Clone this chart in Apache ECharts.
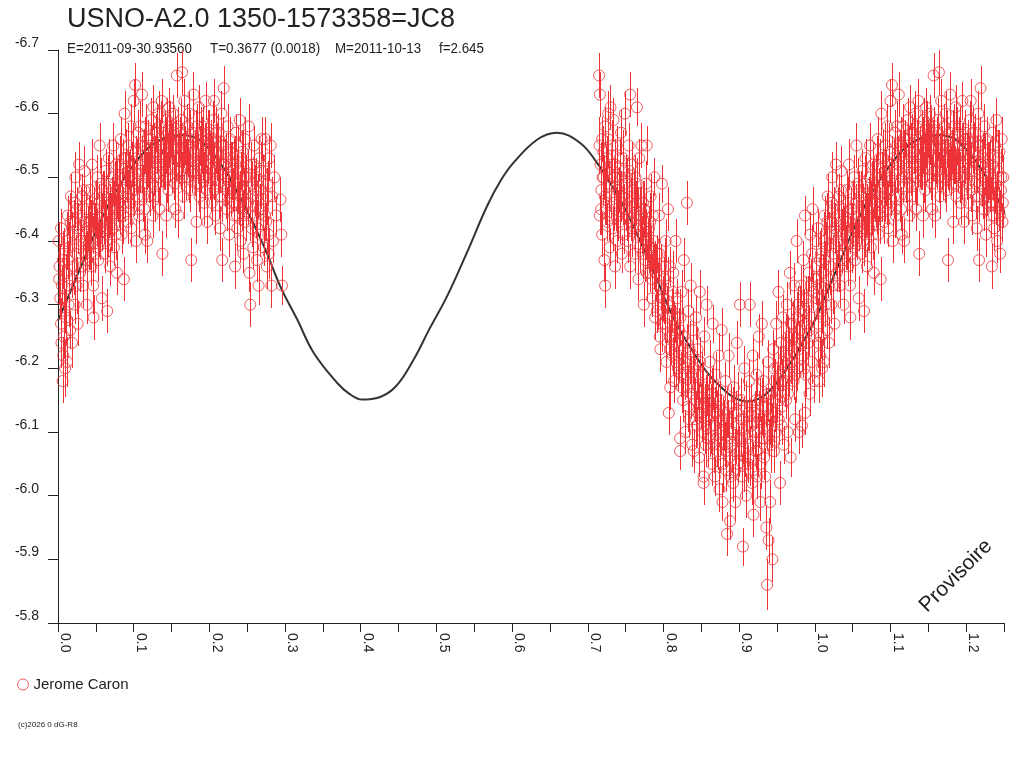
<!DOCTYPE html>
<html><head><meta charset="utf-8">
<script src="https://cdn.jsdelivr.net/npm/echarts@6/dist/echarts.min.js"></script>
<style>html,body{margin:0;padding:0;background:#fff}#c{width:1024px;height:768px}</style>
</head><body><div id="c"></div>
<script>
const titleText = 'USNO-A2.0 1350-1573358=JC8';
const subtitleParts = ['E=2011-09-30.93560', 'T=0.3677 (0.0018)', 'M=2011-10-13', 'f=2.645'];
const seriesName = 'Jerome Caron';
const watermark = 'Provisoire';
const copyright = '(c)2026 0 dG-R8';

// fitted light curve [phase, mag]
const fitCurve = [
[0.000,-6.275],[0.012,-6.308],[0.025,-6.345],[0.038,-6.381],[0.050,-6.415],[0.075,-6.475],[0.100,-6.520],
[0.122,-6.549],[0.144,-6.563],[0.165,-6.566],[0.185,-6.560],[0.205,-6.537],[0.223,-6.507],[0.240,-6.470],
[0.258,-6.428],[0.276,-6.381],[0.294,-6.328],[0.316,-6.277],[0.338,-6.224],[0.369,-6.177],[0.385,-6.160],
[0.402,-6.151],[0.420,-6.153],[0.445,-6.170],[0.470,-6.214],[0.490,-6.260],[0.514,-6.313],[0.540,-6.381],
[0.567,-6.455],[0.585,-6.495],[0.602,-6.523],[0.633,-6.559],[0.659,-6.570],[0.690,-6.554],[0.712,-6.523],
[0.735,-6.480],[0.756,-6.434],[0.787,-6.352],[0.813,-6.280],[0.838,-6.228],[0.860,-6.190],[0.875,-6.172],
[0.892,-6.155],[0.910,-6.148],[0.937,-6.161],[0.967,-6.207],[0.985,-6.243]
];

// observations, first part of the phase [phase, mag, error]
const obsEarly = [
[0.001,-6.40,.03],[0.002,-6.36,.035],[0.003,-6.31,.03],[0.004,-6.27,.04],[0.005,-6.33,.03],[0.006,-6.18,.035],[0.007,-6.22,.03],[0.008,-6.38,.04],[0.009,-6.29,.035],[0.004,-6.42,.03],[0.008,-6.25,.035],
[0.011,-6.35,.03],[0.012,-6.21,.04],[0.013,-6.44,.03],[0.014,-6.30,.035],[0.015,-6.39,.04],[0.016,-6.26,.03],[0.017,-6.47,.035],[0.018,-6.34,.03],[0.019,-6.41,.035],[0.013,-6.37,.03],
[0.021,-6.43,.035],[0.022,-6.30,.03],[0.023,-6.50,.04],[0.024,-6.38,.03],[0.025,-6.45,.035],[0.026,-6.27,.035],[0.027,-6.41,.03],[0.028,-6.52,.035],[0.029,-6.35,.03],
[0.031,-6.40,.03],[0.032,-6.47,.035],[0.033,-6.33,.035],[0.034,-6.43,.03],[0.035,-6.51,.04],[0.036,-6.38,.03],[0.037,-6.45,.035],[0.038,-6.30,.03],[0.039,-6.42,.035],
[0.041,-6.39,.035],[0.042,-6.48,.03],[0.043,-6.43,.035],[0.044,-6.36,.03],[0.045,-6.52,.04],[0.046,-6.41,.03],[0.047,-6.28,.035],[0.048,-6.45,.035],[0.049,-6.38,.03],
[0.051,-6.42,.03],[0.052,-6.50,.035],[0.053,-6.37,.035],[0.054,-6.46,.03],[0.055,-6.55,.035],[0.056,-6.40,.03],[0.057,-6.44,.035],[0.058,-6.31,.035],[0.059,-6.48,.03],
[0.061,-6.43,.035],[0.062,-6.38,.03],[0.063,-6.51,.035],[0.064,-6.46,.03],[0.065,-6.29,.035],[0.066,-6.41,.035],[0.067,-6.53,.03],[0.068,-6.44,.035],[0.069,-6.36,.03],
[0.071,-6.47,.03],[0.072,-6.42,.035],[0.073,-6.55,.035],[0.074,-6.39,.03],[0.075,-6.49,.035],[0.076,-6.44,.03],[0.077,-6.52,.035],[0.078,-6.35,.035],[0.079,-6.46,.03],
[0.081,-6.50,.035],[0.082,-6.44,.03],[0.083,-6.56,.035],[0.084,-6.41,.03],[0.085,-6.48,.035],[0.086,-6.53,.03],[0.087,-6.34,.035],[0.088,-6.60,.035],[0.089,-6.46,.03],
[0.091,-6.49,.03],[0.092,-6.43,.035],[0.093,-6.55,.035],[0.094,-6.51,.03],[0.095,-6.46,.035],[0.096,-6.58,.035],[0.097,-6.42,.03],[0.098,-6.52,.035],[0.099,-6.48,.03],
[0.100,-6.62,.035],[0.101,-6.50,.03],[0.102,-6.645,.035],[0.103,-6.40,.035],[0.104,-6.53,.03],[0.105,-6.47,.035],[0.106,-6.57,.035],[0.107,-6.44,.03],[0.108,-6.51,.035],[0.109,-6.55,.03],
[0.111,-6.63,.035],[0.112,-6.49,.03],[0.113,-6.54,.035],[0.114,-6.45,.035],[0.115,-6.41,.03],[0.116,-6.58,.035],[0.117,-6.51,.03],[0.118,-6.40,.035],[0.119,-6.56,.03],
[0.121,-6.52,.035],[0.122,-6.47,.03],[0.123,-6.59,.035],[0.124,-6.55,.03],[0.125,-6.44,.035],[0.126,-6.61,.035],[0.127,-6.50,.03],[0.128,-6.53,.035],[0.129,-6.57,.03],
[0.131,-6.54,.035],[0.132,-6.49,.03],[0.133,-6.60,.035],[0.134,-6.45,.035],[0.135,-6.56,.03],[0.136,-6.52,.035],[0.137,-6.62,.035],[0.138,-6.38,.035],[0.139,-6.55,.03],
[0.141,-6.57,.035],[0.142,-6.51,.03],[0.143,-6.44,.035],[0.144,-6.59,.035],[0.145,-6.54,.03],[0.146,-6.48,.035],[0.147,-6.61,.03],[0.148,-6.53,.035],[0.149,-6.56,.03],
[0.151,-6.55,.035],[0.152,-6.60,.03],[0.153,-6.50,.035],[0.154,-6.57,.035],[0.155,-6.45,.03],[0.156,-6.53,.035],[0.157,-6.66,.035],[0.158,-6.58,.03],[0.159,-6.44,.035],
[0.161,-6.56,.035],[0.162,-6.51,.03],[0.163,-6.59,.035],[0.164,-6.665,.035],[0.165,-6.54,.03],[0.166,-6.47,.035],[0.167,-6.62,.035],[0.168,-6.55,.03],[0.169,-6.50,.035],
[0.171,-6.58,.035],[0.172,-6.53,.03],[0.173,-6.60,.035],[0.174,-6.48,.035],[0.175,-6.55,.03],[0.176,-6.37,.035],[0.177,-6.51,.035],[0.178,-6.57,.03],[0.179,-6.63,.035],
[0.181,-6.54,.035],[0.182,-6.49,.03],[0.183,-6.43,.035],[0.184,-6.58,.035],[0.185,-6.52,.03],[0.186,-6.61,.035],[0.187,-6.47,.035],[0.188,-6.55,.03],[0.189,-6.51,.035],
[0.191,-6.53,.035],[0.192,-6.58,.03],[0.193,-6.46,.035],[0.194,-6.50,.035],[0.195,-6.62,.03],[0.196,-6.55,.035],[0.197,-6.43,.035],[0.198,-6.52,.03],[0.199,-6.57,.035],
[0.201,-6.50,.035],[0.202,-6.56,.03],[0.203,-6.46,.035],[0.204,-6.53,.035],[0.205,-6.59,.03],[0.206,-6.62,.035],[0.207,-6.48,.035],[0.208,-6.44,.03],[0.209,-6.54,.035],
[0.211,-6.51,.035],[0.212,-6.57,.03],[0.213,-6.47,.035],[0.214,-6.42,.035],[0.215,-6.55,.03],[0.216,-6.60,.035],[0.217,-6.37,.035],[0.218,-6.52,.03],[0.219,-6.64,.035],
[0.221,-6.49,.035],[0.222,-6.54,.03],[0.223,-6.45,.035],[0.224,-6.58,.035],[0.225,-6.50,.03],[0.226,-6.41,.035],[0.227,-6.56,.035],[0.228,-6.47,.03],[0.229,-6.52,.035],
[0.231,-6.48,.035],[0.232,-6.53,.03],[0.233,-6.44,.035],[0.234,-6.36,.035],[0.235,-6.57,.03],[0.236,-6.50,.035],[0.237,-6.42,.035],[0.238,-6.55,.03],[0.239,-6.46,.035],
[0.240,-6.59,.035],[0.241,-6.40,.035],[0.242,-6.51,.03],[0.243,-6.45,.035],[0.244,-6.54,.035],[0.245,-6.38,.03],[0.246,-6.48,.035],[0.247,-6.56,.035],[0.248,-6.43,.03],[0.249,-6.50,.035],
[0.251,-6.46,.035],[0.252,-6.58,.035],[0.253,-6.35,.03],[0.254,-6.30,.035],[0.255,-6.52,.035],[0.256,-6.42,.03],[0.257,-6.49,.035],[0.258,-6.39,.035],[0.259,-6.55,.03],
[0.261,-6.44,.035],[0.262,-6.50,.03],[0.263,-6.37,.035],[0.264,-6.47,.035],[0.265,-6.33,.03],[0.266,-6.53,.035],[0.267,-6.41,.035],[0.268,-6.48,.03],[0.269,-6.56,.035],
[0.271,-6.45,.035],[0.272,-6.39,.03],[0.273,-6.51,.035],[0.274,-6.56,.035],[0.275,-6.43,.03],[0.276,-6.36,.035],[0.277,-6.49,.035],[0.278,-6.41,.03],[0.279,-6.53,.035],
[0.281,-6.55,.035],[0.282,-6.33,.035],[0.283,-6.47,.03],[0.284,-6.40,.035],[0.286,-6.50,.035],[0.288,-6.44,.03],[0.294,-6.465,.035],[0.295,-6.41,.035],[0.296,-6.33,.03]
];

// further observations in the crowded core of the first part
const obsEarlyCore = [
[0.0015,-6.34,.04],[0.0045,-6.24,.04],[0.0065,-6.37,.045],[0.0085,-6.31,.04],[0.0095,-6.20,.045],
[0.0105,-6.28,.04],[0.0125,-6.40,.045],[0.0145,-6.33,.04],[0.0165,-6.43,.045],[0.0185,-6.24,.04],
[0.0205,-6.36,.045],[0.0225,-6.46,.04],[0.0245,-6.33,.045],[0.0265,-6.42,.04],[0.0285,-6.39,.045],
[0.0305,-6.44,.045],[0.0325,-6.36,.04],[0.0345,-6.48,.045],[0.0365,-6.41,.04],[0.0385,-6.37,.045],
[0.0405,-6.43,.04],[0.0425,-6.40,.045],[0.0445,-6.46,.04],[0.0465,-6.33,.045],[0.0485,-6.42,.04],
[0.0505,-6.45,.045],[0.0525,-6.39,.04],[0.0545,-6.42,.045],[0.0565,-6.49,.04],[0.0585,-6.43,.045],
[0.0605,-6.47,.04],[0.0625,-6.42,.045],[0.0645,-6.40,.04],[0.0665,-6.49,.045],[0.0685,-6.45,.04],
[0.0705,-6.43,.045],[0.0725,-6.50,.04],[0.0745,-6.45,.045],[0.0765,-6.41,.04],[0.0785,-6.48,.045],
[0.0805,-6.46,.04],[0.0825,-6.52,.045],[0.0845,-6.47,.04],[0.0865,-6.44,.045],[0.0885,-6.50,.04],
[0.0905,-6.53,.045],[0.0925,-6.47,.04],[0.0945,-6.50,.045],[0.0965,-6.45,.04],[0.0985,-6.54,.045],
[0.1005,-6.48,.04],[0.1025,-6.52,.045],[0.1045,-6.49,.04],[0.1065,-6.45,.045],[0.1085,-6.58,.04],
[0.1105,-6.52,.045],[0.1125,-6.47,.04],[0.1145,-6.55,.045],[0.1165,-6.50,.04],[0.1185,-6.53,.045],
[0.1205,-6.50,.04],[0.1225,-6.56,.045],[0.1245,-6.49,.04],[0.1265,-6.54,.045],[0.1285,-6.47,.04],
[0.1305,-6.57,.045],[0.1325,-6.52,.04],[0.1345,-6.50,.045],[0.1365,-6.58,.04],[0.1385,-6.53,.045],
[0.1405,-6.52,.04],[0.1425,-6.55,.045],[0.1445,-6.50,.04],[0.1465,-6.56,.045],[0.1485,-6.58,.04],
[0.1505,-6.52,.045],[0.1525,-6.56,.04],[0.1545,-6.49,.045],[0.1565,-6.55,.04],[0.1585,-6.51,.045],
[0.1605,-6.53,.04],[0.1625,-6.57,.045],[0.1645,-6.50,.04],[0.1665,-6.56,.045],[0.1685,-6.52,.04],
[0.1705,-6.55,.045],[0.1725,-6.50,.04],[0.1745,-6.56,.045],[0.1765,-6.52,.04],[0.1785,-6.54,.045],
[0.1805,-6.51,.04],[0.1825,-6.56,.045],[0.1845,-6.53,.04],[0.1865,-6.49,.045],[0.1885,-6.57,.04],
[0.1905,-6.55,.045],[0.1925,-6.50,.04],[0.1945,-6.54,.045],[0.1965,-6.48,.04],[0.1985,-6.56,.045],
[0.2005,-6.53,.04],[0.2025,-6.49,.045],[0.2045,-6.56,.04],[0.2065,-6.51,.045],[0.2085,-6.57,.04],
[0.2105,-6.54,.045],[0.2125,-6.49,.04],[0.2145,-6.52,.045],[0.2165,-6.47,.04],[0.2185,-6.55,.045],
[0.2205,-6.52,.04],[0.2225,-6.48,.045],[0.2245,-6.53,.04],[0.2265,-6.46,.045],[0.2285,-6.50,.04],
[0.2305,-6.51,.045],[0.2325,-6.46,.04],[0.2345,-6.52,.045],[0.2365,-6.44,.04],[0.2385,-6.49,.045],
[0.2405,-6.47,.04],[0.2425,-6.53,.045],[0.2445,-6.44,.04],[0.2465,-6.50,.045],[0.2485,-6.46,.04],
[0.2505,-6.50,.045],[0.2535,-6.44,.04],[0.2565,-6.47,.045],[0.2585,-6.52,.04],
[0.2605,-6.48,.04],[0.2635,-6.42,.045],[0.2665,-6.45,.04],[0.2685,-6.51,.045],
[0.2705,-6.49,.045],[0.2735,-6.44,.04],[0.2765,-6.47,.045],[0.2785,-6.38,.04]
];

// observations, late part of the phase [phase, mag, error]
const obsLate = [
[0.715,-6.66,.035],[0.716,-6.63,.035],[0.716,-6.44,.03],[0.717,-6.52,.035],[0.718,-6.48,.03],[0.719,-6.41,.035],[0.719,-6.56,.035],
[0.721,-6.50,.035],[0.722,-6.37,.035],[0.723,-6.33,.035],[0.723,-6.58,.03],[0.724,-6.46,.035],[0.725,-6.53,.035],[0.726,-6.43,.03],[0.727,-6.60,.035],[0.728,-6.49,.035],[0.729,-6.39,.03],
[0.730,-6.61,.035],[0.731,-6.47,.035],[0.732,-6.52,.03],[0.733,-6.42,.035],[0.734,-6.59,.035],[0.735,-6.50,.03],[0.736,-6.36,.035],[0.737,-6.45,.035],[0.738,-6.55,.03],[0.739,-6.40,.035],
[0.741,-6.48,.035],[0.742,-6.53,.03],[0.743,-6.43,.035],[0.744,-6.57,.035],[0.745,-6.38,.03],[0.746,-6.46,.035],[0.747,-6.51,.035],[0.748,-6.41,.03],[0.749,-6.60,.035],
[0.751,-6.45,.035],[0.752,-6.50,.03],[0.753,-6.40,.035],[0.754,-6.55,.035],[0.755,-6.47,.03],[0.756,-6.63,.035],[0.756,-6.36,.035],[0.757,-6.43,.03],[0.758,-6.52,.035],[0.759,-6.48,.035],
[0.761,-6.44,.035],[0.762,-6.38,.03],[0.763,-6.50,.035],[0.764,-6.46,.035],[0.765,-6.61,.03],[0.766,-6.41,.035],[0.767,-6.34,.035],[0.768,-6.53,.03],[0.769,-6.45,.035],
[0.771,-6.55,.035],[0.772,-6.41,.03],[0.773,-6.46,.035],[0.774,-6.30,.035],[0.775,-6.43,.03],[0.776,-6.37,.035],[0.777,-6.49,.035],[0.778,-6.55,.03],[0.779,-6.40,.035],
[0.781,-6.42,.035],[0.782,-6.35,.03],[0.783,-6.47,.035],[0.784,-6.39,.035],[0.785,-6.31,.03],[0.786,-6.44,.035],[0.787,-6.36,.035],[0.788,-6.50,.03],[0.789,-6.28,.035],
[0.791,-6.29,.035],[0.792,-6.38,.03],[0.793,-6.33,.035],[0.794,-6.44,.035],[0.795,-6.25,.03],[0.796,-6.23,.035],[0.797,-6.36,.035],[0.798,-6.49,.03],[0.799,-6.31,.035],
[0.801,-6.34,.035],[0.802,-6.27,.03],[0.803,-6.40,.035],[0.804,-6.21,.035],[0.805,-6.30,.03],[0.806,-6.45,.035],[0.807,-6.13,.035],[0.808,-6.25,.03],[0.809,-6.17,.035],[0.809,-6.36,.03],
[0.811,-6.29,.035],[0.812,-6.22,.03],[0.813,-6.35,.035],[0.814,-6.18,.035],[0.815,-6.27,.03],[0.816,-6.40,.035],[0.817,-6.24,.035],[0.818,-6.31,.03],[0.819,-6.20,.035],
[0.821,-6.26,.035],[0.822,-6.09,.035],[0.822,-6.07,.03],[0.823,-6.19,.035],[0.824,-6.32,.035],[0.825,-6.23,.03],[0.826,-6.15,.035],[0.827,-6.37,.035],[0.828,-6.21,.03],[0.829,-6.10,.035],
[0.831,-6.46,.035],[0.831,-6.24,.03],[0.832,-6.17,.035],[0.833,-6.29,.035],[0.834,-6.12,.03],[0.835,-6.21,.035],[0.836,-6.33,.035],[0.837,-6.19,.03],[0.838,-6.08,.035],[0.839,-6.26,.035],
[0.840,-6.07,.035],[0.841,-6.20,.03],[0.842,-6.15,.035],[0.843,-6.28,.035],[0.844,-6.11,.03],[0.845,-6.23,.035],[0.846,-6.17,.035],[0.847,-6.06,.03],[0.848,-6.32,.035],[0.849,-6.14,.035],
[0.851,-6.19,.035],[0.852,-6.10,.03],[0.853,-6.03,.035],[0.853,-6.02,.035],[0.854,-6.25,.03],[0.855,-6.14,.035],[0.856,-6.08,.035],[0.857,-6.30,.03],[0.858,-6.16,.035],[0.859,-6.12,.035],
[0.861,-6.21,.035],[0.862,-6.09,.03],[0.863,-6.14,.035],[0.864,-6.05,.035],[0.865,-6.27,.03],[0.866,-6.17,.035],[0.867,-6.11,.035],[0.868,-6.03,.03],[0.869,-6.19,.035],
[0.871,-6.13,.035],[0.872,-6.07,.03],[0.873,-6.22,.035],[0.874,-6.01,.035],[0.875,-6.15,.03],[0.876,-6.10,.035],[0.877,-6.26,.035],[0.878,-5.99,.03],[0.879,-6.12,.035],
[0.881,-6.08,.035],[0.882,-6.18,.03],[0.883,-6.04,.035],[0.884,-5.94,.035],[0.885,-6.12,.03],[0.886,-6.22,.035],[0.887,-6.06,.035],[0.888,-5.96,.03],[0.889,-6.14,.035],
[0.891,-6.10,.035],[0.892,-6.02,.03],[0.893,-6.17,.035],[0.894,-6.07,.035],[0.895,-5.99,.03],[0.896,-6.13,.035],[0.897,-6.24,.035],[0.898,-6.05,.03],[0.899,-6.11,.035],
[0.901,-6.30,.035],[0.902,-6.09,.03],[0.903,-6.15,.035],[0.904,-6.03,.035],[0.905,-5.92,.03],[0.906,-6.12,.035],[0.907,-6.20,.035],[0.908,-6.06,.03],[0.909,-6.00,.035],
[0.911,-6.11,.035],[0.912,-6.05,.03],[0.913,-6.18,.035],[0.914,-6.30,.035],[0.915,-6.08,.03],[0.916,-6.14,.035],[0.917,-6.02,.035],[0.918,-6.22,.03],[0.919,-5.97,.035],
[0.921,-6.13,.035],[0.922,-6.07,.03],[0.923,-6.19,.035],[0.924,-6.03,.035],[0.925,-6.10,.03],[0.926,-6.25,.035],[0.927,-6.15,.035],[0.928,-5.99,.03],[0.929,-6.09,.035],
[0.930,-6.27,.035],[0.931,-6.12,.03],[0.932,-6.18,.035],[0.933,-6.06,.035],[0.935,-6.14,.03],[0.936,-5.95,.035],[0.937,-5.86,.04],[0.938,-6.21,.035],[0.939,-5.93,.035],[0.939,-6.09,.03],
[0.941,-5.99,.035],[0.942,-6.16,.03],[0.943,-6.11,.035],[0.944,-5.90,.035],[0.945,-6.23,.03],[0.946,-6.07,.035],[0.947,-6.18,.035],[0.948,-6.13,.03],[0.949,-6.27,.035],
[0.951,-6.20,.035],[0.952,-6.32,.035],[0.953,-6.15,.03],[0.954,-6.02,.035],[0.955,-6.24,.035],[0.956,-6.11,.03],[0.957,-6.18,.035],[0.958,-6.28,.035],[0.959,-6.08,.03],
[0.961,-6.22,.035],[0.962,-6.15,.03],[0.963,-6.30,.035],[0.964,-6.10,.035],[0.965,-6.25,.03],[0.966,-6.19,.035],[0.967,-6.35,.035],[0.968,-6.06,.03],[0.969,-6.21,.035],
[0.971,-6.27,.035],[0.972,-6.18,.03],[0.973,-6.33,.035],[0.974,-6.12,.035],[0.975,-6.24,.03],[0.976,-6.40,.035],[0.977,-6.20,.035],[0.978,-6.30,.03],[0.979,-6.10,.035],
[0.981,-6.26,.035],[0.982,-6.33,.03],[0.983,-6.11,.035],[0.984,-6.22,.035],[0.985,-6.37,.03],[0.986,-6.29,.035],[0.987,-6.13,.035],[0.987,-6.44,.03],[0.988,-6.19,.035],[0.989,-6.31,.035],
[0.991,-6.24,.035],[0.992,-6.35,.03],[0.993,-6.16,.035],[0.994,-6.41,.035],[0.995,-6.28,.03],[0.996,-6.21,.035],[0.997,-6.45,.035],[0.998,-6.32,.03],[0.999,-6.18,.035]
];

// further observations in the crowded core of the late part
const obsLateCore = [
[0.7155,-6.55,.045],[0.7175,-6.45,.04],[0.7195,-6.50,.045],
[0.7205,-6.54,.04],[0.7225,-6.47,.045],[0.7245,-6.51,.04],[0.7265,-6.56,.045],[0.7285,-6.44,.04],
[0.7305,-6.50,.045],[0.7325,-6.55,.04],[0.7345,-6.46,.045],[0.7365,-6.52,.04],[0.7385,-6.48,.045],
[0.7405,-6.44,.04],[0.7425,-6.50,.045],[0.7445,-6.47,.04],[0.7465,-6.53,.045],[0.7485,-6.45,.04],
[0.7505,-6.49,.045],[0.7525,-6.44,.04],[0.7545,-6.51,.045],[0.7565,-6.46,.04],[0.7585,-6.42,.045],
[0.7605,-6.47,.04],[0.7625,-6.42,.045],[0.7645,-6.49,.04],[0.7665,-6.44,.045],[0.7685,-6.39,.04],
[0.7705,-6.44,.045],[0.7725,-6.38,.04],[0.7745,-6.45,.045],[0.7765,-6.41,.04],[0.7785,-6.35,.045],
[0.7805,-6.39,.04],[0.7825,-6.43,.045],[0.7845,-6.34,.04],[0.7865,-6.40,.045],[0.7885,-6.36,.04],
[0.7905,-6.35,.045],[0.7925,-6.30,.04],[0.7945,-6.38,.045],[0.7965,-6.33,.04],[0.7985,-6.27,.045],
[0.8005,-6.31,.04],[0.8025,-6.36,.045],[0.8045,-6.28,.04],[0.8065,-6.33,.045],[0.8085,-6.23,.04],
[0.8105,-6.25,.045],[0.8125,-6.32,.04],[0.8145,-6.26,.045],[0.8165,-6.21,.04],[0.8185,-6.28,.045],
[0.8205,-6.22,.04],[0.8225,-6.28,.045],[0.8245,-6.17,.04],[0.8265,-6.25,.045],[0.8285,-6.19,.04],
[0.8305,-6.20,.045],[0.8325,-6.14,.04],[0.8345,-6.23,.045],[0.8365,-6.16,.04],[0.8385,-6.22,.045],
[0.8405,-6.17,.04],[0.8425,-6.12,.045],[0.8445,-6.19,.04],[0.8465,-6.13,.045],[0.8485,-6.21,.04],
[0.8505,-6.13,.045],[0.8525,-6.17,.04],[0.8545,-6.11,.045],[0.8565,-6.15,.04],[0.8585,-6.09,.045],
[0.8605,-6.15,.04],[0.8625,-6.11,.045],[0.8645,-6.16,.04],[0.8665,-6.08,.045],[0.8685,-6.13,.04],
[0.8705,-6.09,.045],[0.8725,-6.14,.04],[0.8745,-6.08,.045],[0.8765,-6.12,.04],[0.8785,-6.05,.045],
[0.8805,-6.11,.04],[0.8825,-6.07,.045],[0.8845,-6.13,.04],[0.8865,-6.09,.045],[0.8885,-6.03,.04],
[0.8905,-6.08,.045],[0.8925,-6.13,.04],[0.8945,-6.04,.045],[0.8965,-6.09,.04],[0.8985,-6.15,.045],
[0.9005,-6.07,.04],[0.9025,-6.12,.045],[0.9045,-6.09,.04],[0.9065,-6.05,.045],[0.9085,-6.14,.04],
[0.9105,-6.09,.045],[0.9125,-6.13,.04],[0.9145,-6.06,.045],[0.9165,-6.11,.04],[0.9185,-6.04,.045],
[0.9205,-6.10,.04],[0.9225,-6.15,.045],[0.9245,-6.07,.04],[0.9265,-6.12,.045],[0.9285,-6.05,.04],
[0.9305,-6.14,.045],[0.9325,-6.09,.04],[0.9345,-6.03,.045],[0.9365,-6.11,.04],[0.9385,-6.16,.045],
[0.9405,-6.12,.04],[0.9425,-6.08,.045],[0.9445,-6.15,.04],[0.9465,-6.20,.045],[0.9485,-6.10,.04],
[0.9505,-6.16,.045],[0.9525,-6.12,.04],[0.9545,-6.19,.045],[0.9565,-6.14,.04],[0.9585,-6.21,.045],
[0.9605,-6.18,.04],[0.9625,-6.24,.045],[0.9645,-6.16,.04],[0.9665,-6.22,.045],[0.9685,-6.27,.04],
[0.9705,-6.21,.045],[0.9725,-6.25,.04],[0.9745,-6.19,.045],[0.9765,-6.28,.04],[0.9785,-6.23,.045],
[0.9805,-6.29,.04],[0.9825,-6.24,.045],[0.9845,-6.31,.04],[0.9865,-6.20,.045],[0.9885,-6.27,.04],
[0.9905,-6.30,.045],[0.9925,-6.26,.04],[0.9945,-6.33,.04],[0.9965,-6.38,.045],[0.9985,-6.25,.04]
];

const phaseMin = 0, phaseMax = 1.25, phaseStep = 0.05;
const magMin = -6.7, magMax = -5.8, magStep = 0.1;

// the plot repeats phases 0..0.25 after 1.0
const obs = obsEarly.concat(obsEarlyCore, obsLate, obsLateCore);
const obsAll = obs.concat(obs.filter(p => p[0] < phaseMax - 1).map(p => [p[0] + 1, p[1], p[2]]));
const curveAll = fitCurve.concat(fitCurve.filter(p => p[0] <= 0.26).map(p => [p[0] + 1, p[1]]));

const RED = '#ee3338', INK = '#222';
const FONT = '"Liberation Sans", Arial, sans-serif';
const chart = echarts.init(document.getElementById('c'), null, {renderer: 'canvas'});
chart.setOption({
  animation: false,
  backgroundColor: '#fff',
  grid: {left: 58, right: 20, top: 50, bottom: 145, containLabel: false},
  xAxis: {
    type: 'value', min: phaseMin, max: phaseMax, interval: phaseStep,
    axisLine: {onZero: false, lineStyle: {color: INK, width: 1}},
    axisTick: {length: 9, interval: 0, lineStyle: {color: INK}},
    splitLine: {show: false},
    axisLabel: {
      rotate: -90, align: 'left', verticalAlign: 'bottom', margin: 10, interval: 0,
      color: INK, fontFamily: 'Liberation Sans, Arial, sans-serif', fontSize: 14,
      formatter: v => { const r = Math.round(v * 100); return r % 10 === 0 ? (r / 100).toFixed(1) : ''; }
    }
  },
  yAxis: {
    type: 'value', inverse: true, min: magMin, max: magMax, interval: magStep,
    axisLine: {onZero: false, lineStyle: {color: INK, width: 1}},
    axisTick: {length: 10, lineStyle: {color: INK}},
    splitLine: {show: false},
    axisLabel: {
      margin: 19, verticalAlign: 'bottom', color: INK,
      fontFamily: 'Liberation Sans, Arial, sans-serif', fontSize: 14,
      formatter: v => v.toFixed(1)
    }
  },
  legend: {
    show: true, left: 12, top: 672, orient: 'vertical', itemWidth: 11, itemHeight: 11, itemGap: 6,
    icon: 'circle',
    data: [{name: seriesName, itemStyle: {color: 'rgba(0,0,0,0)', borderColor: RED, borderWidth: 1}}],
    textStyle: {color: INK, fontFamily: 'Liberation Sans, Arial, sans-serif', fontSize: 15}
  },
  graphic: [
    {type: 'text', x: 67, y: 6, style: {text: titleText, fill: INK, font: '27px ' + FONT, textVerticalAlign: 'top'}},
    {type: 'text', x: 67, y: 41, scaleX: 0.89, style: {text: subtitleParts[0], fill: INK, font: '15px ' + FONT, textVerticalAlign: 'top'}},
    {type: 'text', x: 210, y: 41, scaleX: 0.89, style: {text: subtitleParts[1], fill: INK, font: '15px ' + FONT, textVerticalAlign: 'top'}},
    {type: 'text', x: 335, y: 41, scaleX: 0.89, style: {text: subtitleParts[2], fill: INK, font: '15px ' + FONT, textVerticalAlign: 'top'}},
    {type: 'text', x: 439, y: 41, scaleX: 0.89, style: {text: subtitleParts[3], fill: INK, font: '15px ' + FONT, textVerticalAlign: 'top'}},
    {type: 'text', x: 956, y: 576, rotation: Math.PI / 4, style: {text: watermark, fill: INK, font: '21px ' + FONT, textAlign: 'center', textVerticalAlign: 'middle'}},
    {type: 'text', x: 18, y: 721, style: {text: copyright, fill: INK, font: '8px ' + FONT, textVerticalAlign: 'top'}}
  ],
  series: [
    {
      type: 'line', data: curveAll, showSymbol: false, smooth: 0.4, clip: true, z: 1,
      lineStyle: {color: '#333', width: 2}, silent: true
    },
    {
      type: 'custom', data: obsAll, clip: true, z: 2, silent: true,
      encode: {x: 0, y: 1},
      renderItem: (params, api) => {
        const x = api.value(0), y = api.value(1), e = api.value(2);
        const a = api.coord([x, y - e]), b = api.coord([x, y + e]);
        const px = Math.round(a[0]) + 0.5;
        return {type: 'line', shape: {x1: px, y1: Math.round(a[1]), x2: px, y2: Math.round(b[1])}, style: {stroke: RED, lineWidth: 1}};
      }
    },
    {
      name: seriesName, type: 'scatter', data: obsAll.map(p => [p[0], p[1]]), symbol: 'circle', symbolSize: 11, z: 3, clip: true,
      itemStyle: {color: 'rgba(0,0,0,0)', borderColor: RED, borderWidth: 1}
    }
  ]
});
</script>
</body></html>
